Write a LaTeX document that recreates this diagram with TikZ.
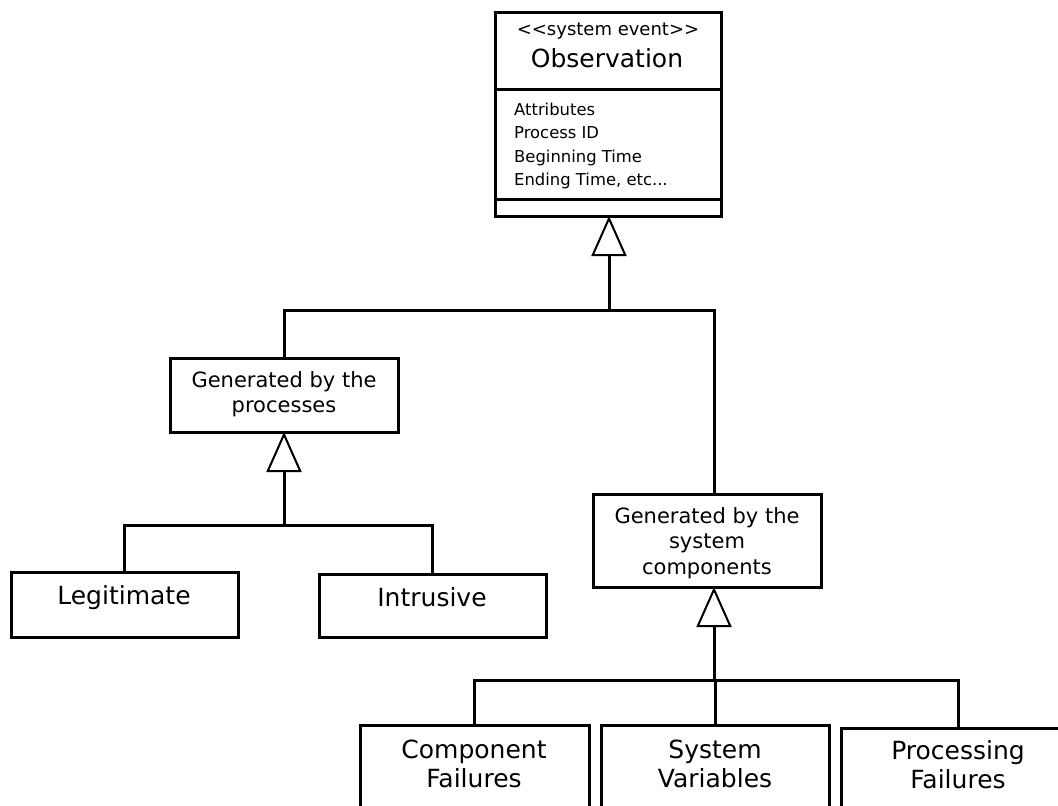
\documentclass[tikz,border=0pt]{standalone}
\usepackage{fontspec}
\setmainfont{DejaVu Sans}
\usetikzlibrary{arrows.meta}
\begin{document}
\begin{tikzpicture}[x=1pt,y=-1pt,
  box/.style={draw, line width=3pt, inner sep=0pt, outer sep=0pt, align=center},
  lbl/.style={font=\fontsize{25}{29}\selectfont, align=center, inner sep=0pt},
  gentext/.style={font=\fontsize{21}{25.3}\selectfont, align=center, inner sep=0pt},
  wire/.style={line width=3pt},
  inherit/.style={line width=3pt, -{Triangle[open, length=40pt, width=35pt, line width=2pt]}},
]
\useasboundingbox (0,0) rectangle (1058,806);
\fill[white] (0,0) rectangle (1058,806);

% class box with its three compartments
\node[box, minimum width=226, minimum height=204] (obs) at (608,114) {};
\coordinate (div1) at (0,89);
\coordinate (div2) at (0,199);
\draw[wire] (obs.west |- div1) -- (obs.east |- div1);
\draw[wire] (obs.west |- div2) -- (obs.east |- div2);
\node[font=\fontsize{18}{20}\selectfont] (stereo) at (608,31) {<{}<system event>{}>};
\node[font=\fontsize{25}{29}\selectfont] (title) at (607,58) {Observation};
\node[anchor=north west, align=left, inner sep=0pt,
      font=\fontsize{16.4}{23.2}\selectfont] (attr) at (514,103)
  {Attributes\\Process ID\\Beginning Time\\Ending Time, etc...};

% first level subclasses
\node[box, minimum width=228, minimum height=74] (proc) at (284,395) {};
\node[gentext] (proct) at (284,394) {Generated by the\\processes};
\node[box, minimum width=228, minimum height=93] (sys) at (707,540.5) {};
\node[gentext] (syst) at (707,543) {Generated by the\\system\\components};

% process-generated leaves
\node[box, minimum width=227, minimum height=65] (legit) at (124.5,604.5) {};
\node[box, minimum width=227, minimum height=63] (intr) at (432.5,605.5) {};
\node[lbl] (legitt) at (124,598) {Legitimate};
\node[lbl] (intrt) at (432,597) {Intrusive};

% component-generated leaves (open at the bottom edge)
\node[box, anchor=north west, minimum width=229, minimum height=110] (comp) at (360,725) {};
\node[box, anchor=north west, minimum width=228, minimum height=110] (svar) at (601,725) {};
\node[box, anchor=north west, minimum width=234, minimum height=110] (pfail) at (841,728) {};
\node[lbl] (compt) at (474,764) {Component\\Failures};
\node[lbl] (svart) at (715,764) {System\\Variables};
\node[lbl] (pfailt) at (958,765) {Processing\\Failures};

% generalisation connectors
\coordinate (b1) at (609,310);
\coordinate (b1r) at (714,310);
\draw[inherit] (b1) -- (b1 |- obs.south);
\draw[wire] (proc.north) |- (b1r) -- (b1r |- sys.north);

\coordinate (b2) at (284,525);
\draw[inherit] (b2) -- (b2 |- proc.south);
\draw[wire] (legit.north) |- (b2) -| (intr.north);

\coordinate (b3) at (714,680);
\draw[inherit] (b3) -- (b3 |- sys.south);
\draw[wire] (comp.north) |- (b3) -| (pfail.north);
\draw[wire] (svar.north) -- (svar.north |- b3);
\end{tikzpicture}
\end{document}
